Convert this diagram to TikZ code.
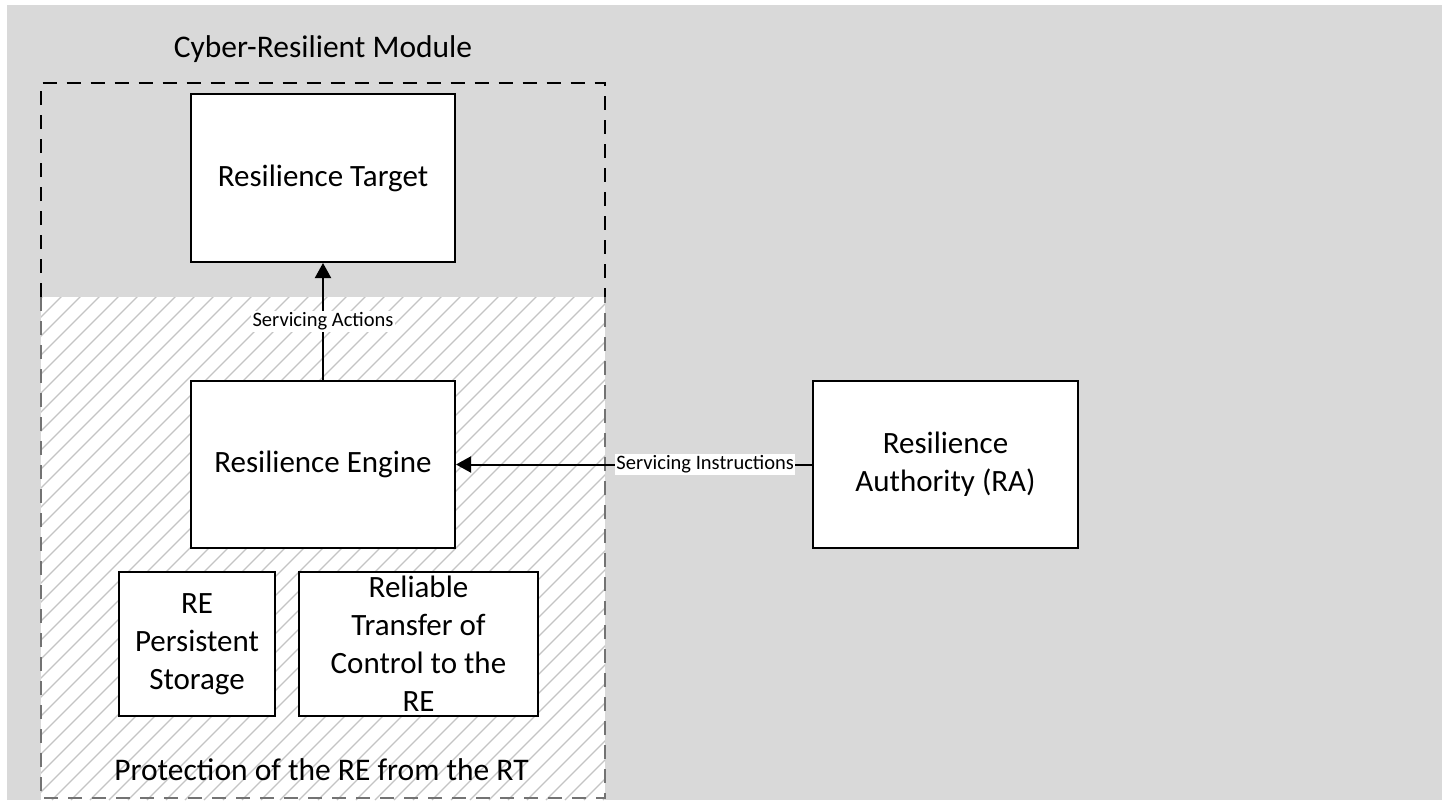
\documentclass[tikz,border=0pt]{standalone}
\usepackage{fontspec}
\setmainfont{Carlito}
\usetikzlibrary{arrows.meta}
\definecolor{bggray}{HTML}{D9D9D9}
\definecolor{hatchgray}{HTML}{C4C4C4}
\begin{document}
\begin{tikzpicture}[x=1pt,y=-1pt,
  box/.style={draw=black,line width=2pt,fill=white,inner sep=0pt,align=center,
    font=\fontsize{31}{38}\selectfont},
  bigtext/.style={inner sep=0pt,font=\fontsize{31.5}{38}\selectfont},
  lbl/.style={fill=white,inner sep=1.5pt,font=\fontsize{20.5}{24}\selectfont},
  conn/.style={line width=2pt,-{Triangle[length=15pt,width=16pt]}},
  frameline/.style={line width=2pt,dash pattern=on 14pt off 10pt},
  hatch/.style={draw=hatchgray,line width=1.2pt}]
\useasboundingbox (0,0) rectangle (1442,800);
\fill[white] (0,0) rectangle (1442,800);
\fill[bggray] (7,5) rectangle (1442,800);

% protected (hatched) zone
\fill[white] (41,297) rectangle (605,800);
\begin{scope}
  \clip (41,297) rectangle (605,800);
  \foreach \i in {0,...,60}
    \draw[hatch] (-480+\i*19,800) -- ++(520,-520);
\end{scope}

% module frame: solid black dashes above the zone, grey inside it
\draw[frameline,black] (41,297) -- (41,82.5) -- (605,82.5) -- (605,297);
\draw[frameline,black!55] (41,297) -- (41,798) -- (605,798) -- (605,297);

\node[bigtext,anchor=base] (title) at (323,58) {Cyber-Resilient Module};

\node[box,minimum width=264,minimum height=168] (rt) at (323,178) {Resilience Target};
\node[box,minimum width=264,minimum height=167] (re) at (323,464.5) {Resilience Engine};
\node[box,minimum width=265,minimum height=167] (ra) at (945.5,464.5) {Resilience\\Authority (RA)};
\node[box,minimum width=156,minimum height=144] (ps) at (197,644) {RE\\Persistent\\Storage};
\node[box,minimum width=239,minimum height=144] (tc) at (418.5,644) {Reliable\\Transfer of\\Control to the\\RE};

\node[bigtext,anchor=base] (prot) at (321.5,780) {Protection of the RE from the RT};

\draw[conn] (re) -- node[lbl] (sa) {Servicing Actions} (rt);
\draw[conn] (ra) -- node[lbl,pos=0.3] (si) {Servicing Instructions} (re);
\end{tikzpicture}
\end{document}
